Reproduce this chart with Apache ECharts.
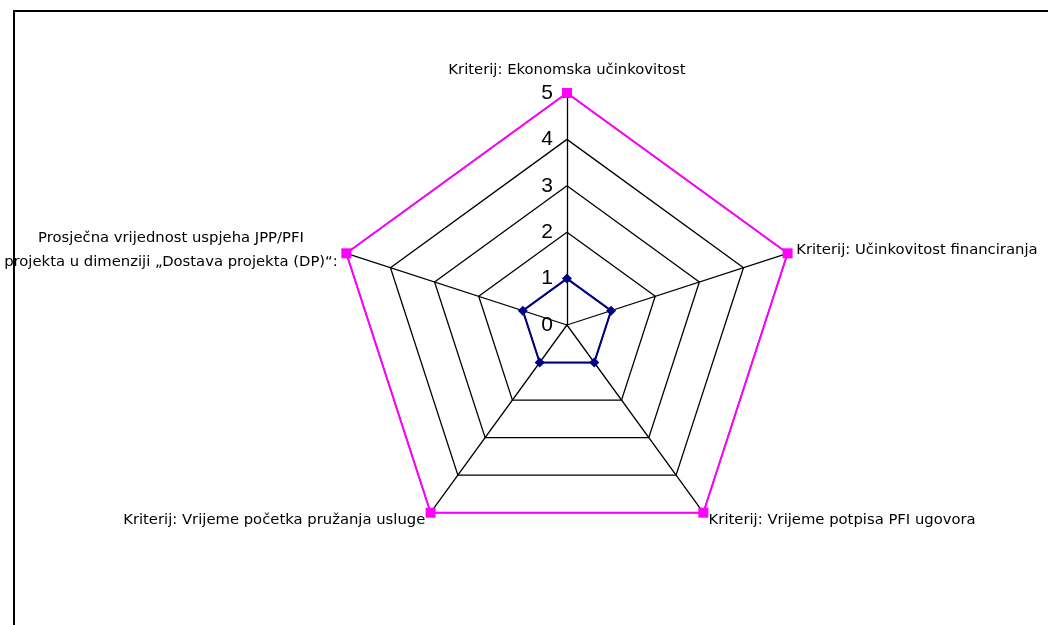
<!DOCTYPE html>
<html>
<head>
<meta charset="utf-8">
<script src="https://cdn.jsdelivr.net/npm/echarts@6/dist/echarts.min.js"></script>
<style>
html,body{margin:0;padding:0;background:#fff;}
#chart{width:1048px;height:625px;}
</style>
</head>
<body>
<div id="chart"></div>
<script>
// Indicators in ECharts drawing order (counter-clockwise from top)
var indicatorNames = [
  'Kriterij: Ekonomska učinkovitost',
  'Prosječna vrijednost uspjeha JPP/PFI\nprojekta u dimenziji „Dostava projekta (DP)“:',
  'Kriterij: Vrijeme početka pružanja usluge',
  'Kriterij: Vrijeme potpisa PFI ugovora',
  'Kriterij: Učinkovitost financiranja'
];
var maxValue = 5;
var tickCount = 5;
var seriesMax = [5, 5, 5, 5, 5];
var seriesAvg = [1, 1, 1, 1, 1];

var FONT = "'Liberation Sans', Arial, sans-serif";
var NAME_FONT = "'DejaVu Sans', 'Liberation Sans', sans-serif";
var NAME_SIZE = 14.8;
var chart = echarts.init(document.getElementById('chart'), null, {renderer: 'canvas'});

var indicators = indicatorNames.map(function (n, i) {
  var o = {name: n, max: maxValue, min: 0};
  if (i === 0) o.axisLabel = {show: true};
  return o;
});

chart.setOption({
  animation: false,
  backgroundColor: '#fff',
  graphic: [{
    type: 'rect',
    shape: {x: 14, y: 11, width: 1100, height: 700},
    style: {fill: 'none', stroke: '#000', lineWidth: 2},
    silent: true
  }],
  radar: {
    center: ['54.1%', '52%'],
    radius: 232,
    startAngle: 90,
    splitNumber: tickCount,
    shape: 'polygon',
    indicator: indicators,
    nameGap: 9,
    axisName: {
      color: '#000',
      fontFamily: NAME_FONT,
      fontSize: NAME_SIZE,
      formatter: function (name) {
        if (name.indexOf('\n') >= 0) {
          return name.split('\n').map(function (s) { return '{c|' + s + '}'; }).join('\n');
        }
        if (name === indicatorNames[0]) return '{t|' + name + '}';
        return name;
      },
      rich: {
        c: {align: 'center', lineHeight: 24, fontSize: NAME_SIZE, fontFamily: NAME_FONT, color: '#000'},
        t: {padding: [0, 0, 6, 0], fontSize: NAME_SIZE, fontFamily: NAME_FONT, color: '#000'}
      }
    },
    axisLine: {lineStyle: {color: '#000', width: 1.3}},
    splitLine: {lineStyle: {color: '#000', width: 1.3}},
    splitArea: {show: false},
    axisTick: {show: false},
    axisLabel: {show: false, color: '#000', fontSize: 21, fontFamily: FONT, margin: 14}
  },
  series: [{
    type: 'radar',
    silent: true,
    data: [{
      value: seriesMax,
      symbol: 'rect',
      symbolSize: 10,
      itemStyle: {color: '#ff00ff'},
      lineStyle: {color: '#ff00ff', width: 2}
    }, {
      value: seriesAvg,
      symbol: 'diamond',
      symbolSize: 10,
      itemStyle: {color: '#000080'},
      lineStyle: {color: '#000080', width: 2}
    }]
  }]
});
</script>
</body>
</html>
